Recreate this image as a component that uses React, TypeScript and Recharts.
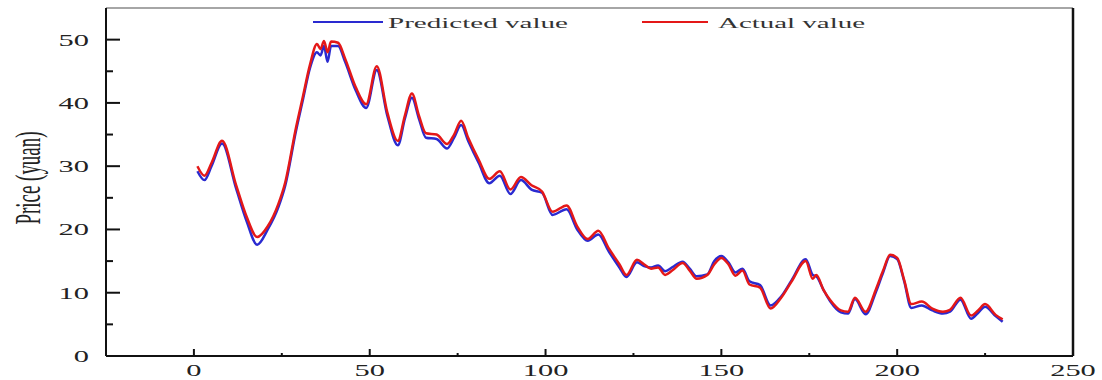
import { LineChart, Line, XAxis, YAxis, Legend, ReferenceLine } from "recharts";

// trading day index
const days = [
  1, 3, 5, 8, 12, 15, 18, 21, 24, 26, 29, 31, 33, 35, 36, 37, 38, 39, 41, 43,
  46, 49, 52, 55, 58, 60, 62, 64, 66, 69, 72, 74, 76, 78, 81, 84, 87, 90, 93, 96,
  99, 102, 106, 109, 112, 115, 118, 121, 123, 126, 128, 130, 132, 134, 136, 139, 141, 143, 146, 148,
  150, 152, 154, 156, 158, 161, 164, 167, 170, 174, 176, 177, 179, 181, 184, 186, 188, 191, 194, 196,
  198, 200, 202, 204, 207, 210, 213, 215, 218, 221, 223, 225, 228, 230,
];

const actual = [
  30.0, 28.5, 30.5, 34.0, 27.0, 22.0, 18.8, 20.5, 24.0, 27.5, 36.0, 41.0, 46.0, 49.3, 48.5, 49.8, 48.0, 49.7, 49.5, 47.0,
  42.5, 39.8, 45.8, 38.5, 34.0, 38.0, 41.5, 38.0, 35.2, 35.0, 33.5, 35.0, 37.2, 34.5, 31.0, 28.0, 29.2, 26.3, 28.3, 27.0,
  26.0, 22.8, 23.8, 20.5, 18.5, 19.8, 17.0, 14.5, 12.8, 15.2, 14.5, 13.8, 14.0, 12.8, 13.5, 14.7, 13.5, 12.2, 12.8, 14.5,
  15.5, 14.5, 12.7, 13.5, 11.3, 10.8, 7.5, 9.2, 11.8, 15.0, 12.2, 12.8, 10.5, 8.8, 7.2, 7.0, 9.2, 7.0, 10.6, 13.5,
  16.0, 15.5, 12.0, 8.2, 8.6, 7.5, 7.0, 7.3, 9.2, 6.4, 7.2, 8.2, 6.5, 5.8,
];

const predicted = [
  29.2, 27.8, 30.0, 33.6, 26.5, 21.3, 17.6, 20.0, 23.5, 27.0, 35.5, 40.5, 45.5, 48.0, 47.5, 49.0, 46.5, 49.0, 49.0, 46.5,
  42.0, 39.2, 45.2, 38.0, 33.3, 37.5, 40.8, 37.5, 34.5, 34.3, 32.8, 34.5, 36.5, 34.0, 30.5, 27.3, 28.5, 25.6, 27.8, 26.3,
  25.8, 22.3, 23.2, 20.0, 18.2, 19.2, 16.5, 14.0, 12.5, 14.8, 14.2, 14.0, 14.3, 13.4, 14.0, 14.9, 13.8, 12.6, 12.9, 15.0,
  15.8, 14.8, 13.2, 13.8, 11.8, 11.2, 8.0, 9.4, 12.0, 15.3, 12.8, 12.6, 10.5, 8.6, 6.9, 6.7, 9.0, 6.6, 10.2, 13.2,
  15.8, 15.3, 11.8, 7.6, 8.0, 7.2, 6.7, 7.0, 8.9, 5.9, 6.8, 7.8, 6.3, 5.4,
];

const xTicks = [0, 25, 50, 75, 100, 125, 150, 175, 200, 225, 250];
const yTicks = [0, 5, 10, 15, 20, 25, 30, 35, 40, 45, 50];

const data = days.map((d, i) => ({ day: d, predicted: predicted[i], actual: actual[i] }));

const FONT = "'Liberation Serif', 'Times New Roman', serif";
const BLUE = "#2a2ad0";
const RED = "#e41818";

function XTick({ x, y, payload }: any) {
  const major = payload.value % 50 === 0;
  return (
    <g>
      <line x1={x} x2={x} y1={y} y2={y - (major ? 7 : 3)} stroke="#111" strokeWidth={2} />
      {major && (
        <g transform={`translate(${x},${y + 20}) scale(1.9,1)`}>
          <text textAnchor="middle" fontFamily={FONT} fontSize={16} fill="#222">{payload.value}</text>
        </g>
      )}
    </g>
  );
}

function YTick({ x, y, payload }: any) {
  const major = payload.value % 10 === 0;
  return (
    <g>
      <line x1={x} x2={x + (major ? 14 : 7)} y1={y} y2={y} stroke="#111" strokeWidth={2} />
      {major && (
        <g transform={`translate(${x - 17},${y + 6}) scale(1.9,1)`}>
          <text textAnchor="end" fontFamily={FONT} fontSize={16} fill="#222">{payload.value}</text>
        </g>
      )}
    </g>
  );
}

const legendSlots: Record<string, { line: number[]; text: number; len: number }> = {
  "Predicted value": { line: [313, 383], text: 388, len: 180 },
  "Actual value": { line: [642, 708], text: 718, len: 147 },
};

function LegendBox({ payload }: any) {
  return (
    <svg width={1102} height={34}>
      {(payload || []).map((p: any) => {
        const s = legendSlots[p.value];
        if (!s) return null;
        return (
          <g key={p.value}>
            <line x1={s.line[0]} x2={s.line[1]} y1={22} y2={22} stroke={p.color} strokeWidth={2} />
            <text x={s.text} y={28} fontFamily={FONT} fontSize={14} fill="#333" textLength={s.len} lengthAdjust="spacingAndGlyphs">
              {p.value}
            </text>
          </g>
        );
      })}
    </svg>
  );
}

function YLabel({ viewBox }: any) {
  const cx = viewBox.x + 14;
  const cy = 178;
  return (
    <text x={cx} y={cy} transform={`rotate(-90, ${cx}, ${cy})`} textAnchor="middle" fontFamily={FONT} fontSize={36} fill="#222" textLength={93} lengthAdjust="spacingAndGlyphs">
      Price (yuan)
    </text>
  );
}

export default function App() {
  return (
    <div style={{ position: "absolute", left: 0, top: 0, background: "#fff" }}>
      <LineChart width={1102} height={380} data={data} margin={{ top: 8, right: 29, bottom: 4, left: 26 }}>
        <XAxis
          dataKey="day"
          type="number"
          domain={[-25, 250]}
          ticks={xTicks}
          interval={0}
          height={20}
          tickSize={0}
          tickMargin={0}
          tick={<XTick />}
          axisLine={{ stroke: "#111", strokeWidth: 2 }}
        />
        <YAxis
          domain={[0, 55]}
          ticks={yTicks}
          interval={0}
          width={80}
          tickSize={0}
          tickMargin={0}
          tick={<YTick />}
          axisLine={{ stroke: "#111", strokeWidth: 2 }}
          label={{ content: <YLabel /> }}
        />
        <ReferenceLine y={55} stroke="#888" strokeWidth={1.5} />
        <ReferenceLine x={250} stroke="#111" strokeWidth={2.5} />
        <Legend layout="horizontal" verticalAlign="middle" align="center" content={<LegendBox />} wrapperStyle={{ top: 0, left: 0, width: 1102, height: 34 }} />
        <Line type="monotone" dataKey="predicted" name="Predicted value" stroke={BLUE} strokeWidth={2.5} dot={false} isAnimationActive={false} />
        <Line type="monotone" dataKey="actual" name="Actual value" stroke={RED} strokeWidth={2.5} dot={false} isAnimationActive={false} />
      </LineChart>
    </div>
  );
}
